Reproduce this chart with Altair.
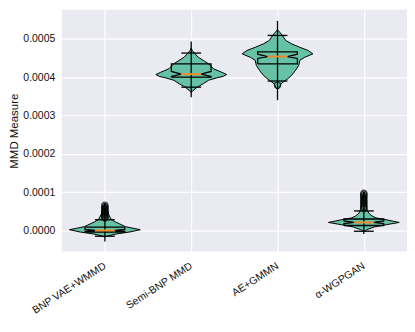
import altair as alt
import pandas as pd

# ---------------- data (values in units of 1e-4) ----------------
categories = ["BNP VAE+WMMD", "Semi-BNP MMD", "AE+GMMN", "α-WGPGAN"]

# violin outlines: value levels and relative half-width (1 = widest)
bnp_levels = [-0.17, -0.13, -0.09, -0.04, 0.02, 0.10, 0.17, 0.23, 0.30, 0.41, 0.50, 0.60, 0.70]
bnp_width = [0.0, 0.14, 0.33, 0.70, 1.0, 0.58, 0.42, 0.28, 0.17, 0.11, 0.08, 0.06, 0.0]
semi_levels = [3.60, 3.66, 3.74, 3.83, 3.92, 3.98, 4.02, 4.07, 4.13, 4.22, 4.35, 4.44, 4.52, 4.61, 4.70, 4.76]
semi_width = [0.0, 0.06, 0.17, 0.34, 0.49, 0.71, 0.90, 1.0, 0.86, 0.63, 0.49, 0.34, 0.20, 0.11, 0.03, 0.0]
ae_levels = [3.68, 3.74, 3.80, 3.85, 3.90, 3.96, 4.05, 4.18, 4.31, 4.44, 4.52, 4.61, 4.70, 4.78, 4.87, 4.96, 5.09, 5.24]
ae_width = [0.0, 0.06, 0.08, 0.12, 0.20, 0.29, 0.40, 0.51, 0.60, 0.63, 0.77, 1.0, 0.86, 0.63, 0.40, 0.23, 0.14, 0.0]
wgp_levels = [-0.03, 0.02, 0.09, 0.15, 0.21, 0.28, 0.33, 0.38, 0.45, 0.55, 0.70, 0.85, 1.00]
wgp_width = [0.0, 0.09, 0.29, 0.63, 1.0, 0.63, 0.34, 0.23, 0.14, 0.09, 0.06, 0.05, 0.0]

# extrema bars (min / max) and whisker caps
bar_min = [-0.285, 3.48, 3.40, -0.09]
bar_max = [0.71, 4.93, 5.47, 1.01]
cap_low = [-0.15, 3.74, 3.90, -0.02]
cap_high = [0.28, 4.63, 5.09, 0.51]

# notched box statistics
q1 = [-0.04, 4.00, 4.35, 0.13]
q3 = [0.09, 4.35, 4.66, 0.30]
median = [0.00, 4.08, 4.54, 0.21]
notch_lo = [-0.02, 4.02, 4.49, 0.18]
notch_hi = [0.03, 4.15, 4.60, 0.25]

# outliers
bnp_fliers = [0.32, 0.35, 0.38, 0.41, 0.44, 0.47, 0.50, 0.53, 0.56, 0.59, 0.62, 0.66]
semi_fliers = []
ae_fliers = [3.79]
wgp_fliers = [0.58, 0.62, 0.66, 0.70, 0.74, 0.78, 0.82, 0.86, 0.90, 0.94, 0.97]

# ---------------- styling constants ----------------
VIOLIN_HW = 0.41   # max half width of violin (category units)
BOX_HW = 0.23
NOTCH_HW = 0.115
CAP_HW = 0.115
GREEN = "#66c2a5"
ORANGE = "#ee8a2c"
TEXT = "#111111"

# ---------------- tables ----------------
profiles = [(bnp_levels, bnp_width), (semi_levels, semi_width),
            (ae_levels, ae_width), (wgp_levels, wgp_width)]
vrows = []
for i, (lv, wd) in enumerate(profiles):
    for v, w in zip(lv, wd):
        vrows.append({"idx": i, "v": v, "w": w})
violin_df = pd.DataFrame(vrows)

stats_df = pd.DataFrame({
    "idx": list(range(4)), "bmin": bar_min, "bmax": bar_max,
    "clo": cap_low, "chi": cap_high, "med": median,
})

brows = []
for i in range(4):
    pts = [(-BOX_HW, q1[i]), (-BOX_HW, notch_lo[i]), (-NOTCH_HW, median[i]),
           (-BOX_HW, notch_hi[i]), (-BOX_HW, q3[i]), (BOX_HW, q3[i]),
           (BOX_HW, notch_hi[i]), (NOTCH_HW, median[i]), (BOX_HW, notch_lo[i]),
           (BOX_HW, q1[i]), (-BOX_HW, q1[i])]
    for k, (dx, v) in enumerate(pts):
        brows.append({"idx": i, "k": k, "x": i + dx, "v": v})
box_df = pd.DataFrame(brows)

frows = []
for i, fl in enumerate([bnp_fliers, semi_fliers, ae_fliers, wgp_fliers]):
    for v in fl:
        frows.append({"idx": i, "v": v})
flier_df = pd.DataFrame(frows)

# ---------------- scales / axes ----------------
xscale = alt.Scale(domain=[-0.5, 3.5], nice=False, zero=False)
yscale = alt.Scale(domain=[-0.55, 5.76], nice=False, zero=False)
label_expr = "[" + ",".join("'" + c + "'" for c in categories) + "][datum.value]"
yaxis = alt.Axis(values=[0, 1, 2, 3, 4, 5],
                 labelExpr="format(datum.value / 10000, '.4f')",
                 title="MMD Measure")
xaxis = alt.Axis(values=[0, 1, 2, 3], labelExpr=label_expr, title=None,
                 labelAngle=-33, labelAlign="right", labelBaseline="top",
                 labelOffset=-3, labelPadding=9)

violin = alt.Chart(violin_df).mark_area(
    orient="horizontal", fill=GREEN, stroke="black", strokeWidth=1
).transform_calculate(
    xl=f"datum.idx - datum.w * {VIOLIN_HW}", xr=f"datum.idx + datum.w * {VIOLIN_HW}"
).encode(
    y=alt.Y("v:Q", scale=yscale, axis=yaxis),
    x=alt.X("xl:Q", scale=xscale, axis=xaxis),
    x2="xr:Q",
    detail="idx:N",
)

bars = alt.Chart(stats_df).mark_rule(color="black", strokeWidth=1.3).encode(
    x=alt.X("idx:Q", scale=xscale, axis=xaxis),
    y=alt.Y("bmin:Q", scale=yscale, axis=yaxis),
    y2="bmax:Q",
)

caps_hi = alt.Chart(stats_df).mark_rule(color="black", strokeWidth=1.3).transform_calculate(
    a=f"datum.idx - {CAP_HW}", b=f"datum.idx + {CAP_HW}"
).encode(
    x=alt.X("a:Q", scale=xscale, axis=xaxis), x2="b:Q",
    y=alt.Y("chi:Q", scale=yscale, axis=yaxis),
)
caps_lo = alt.Chart(stats_df).mark_rule(color="black", strokeWidth=1.3).transform_calculate(
    a=f"datum.idx - {CAP_HW}", b=f"datum.idx + {CAP_HW}"
).encode(
    x=alt.X("a:Q", scale=xscale, axis=xaxis), x2="b:Q",
    y=alt.Y("clo:Q", scale=yscale, axis=yaxis),
)

box = alt.Chart(box_df).mark_line(color="black", strokeWidth=1.3).encode(
    x=alt.X("x:Q", scale=xscale, axis=xaxis),
    y=alt.Y("v:Q", scale=yscale, axis=yaxis),
    detail="idx:N",
    order="k:Q",
)

med = alt.Chart(stats_df).mark_rule(color=ORANGE, strokeWidth=2).transform_calculate(
    a=f"datum.idx - {NOTCH_HW}", b=f"datum.idx + {NOTCH_HW}"
).encode(
    x=alt.X("a:Q", scale=xscale, axis=xaxis), x2="b:Q",
    y=alt.Y("med:Q", scale=yscale, axis=yaxis),
)

fliers = alt.Chart(flier_df).mark_point(
    shape="circle", filled=False, color="black", size=40, strokeWidth=1.2
).encode(
    x=alt.X("idx:Q", scale=xscale, axis=xaxis),
    y=alt.Y("v:Q", scale=yscale, axis=yaxis),
)

chart = alt.layer(violin, bars, caps_hi, caps_lo, box, med, fliers).properties(
    width=347, height=243,
    padding={"left": 0, "top": 1, "right": 0, "bottom": 0},
    background="white",
).configure_view(
    fill="#eaeaf2", strokeWidth=0
).configure_axis(
    domain=False, ticks=False, grid=True, gridColor="white", gridWidth=1.2,
    labelFont="Liberation Sans", labelFontSize=10.5, labelColor=TEXT,
    labelPadding=7,
    titleFont="Liberation Sans", titleFontSize=11.5, titleFontWeight="normal",
    titleColor=TEXT, titlePadding=3,
)

chart.save("out.html", embed_options={"renderer": "svg", "actions": False})
